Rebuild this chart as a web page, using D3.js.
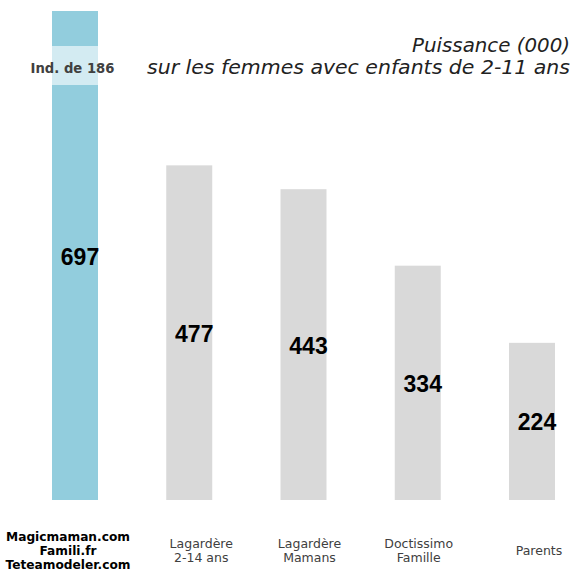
<!DOCTYPE html>
<html><head><meta charset="utf-8">
<script src="https://cdn.jsdelivr.net/npm/d3@7"></script>
<style>html,body{margin:0;padding:0;background:#fff;}svg{display:block;}</style>
</head><body>
<svg id="c" width="577" height="577"></svg>
<script>
const categories = [
  ["Magicmaman.com","Famili.fr","Teteamodeler.com"],
  ["Lagardère","2-14 ans"],
  ["Lagardère","Mamans"],
  ["Doctissimo","Famille"],
  ["Parents"]
];
const values = [697, 477, 443, 334, 224];
const indexLabel = "Ind. de 186";
const titleLines = ["Puissance (000)", "sur les femmes avec enfants de 2-11 ans"];

// layout
const labelDx = [-7, 12, 6, 1, 7];
const titleWidths = [158, 423];
const barW = 46;
const svg = d3.select("#c");
const ids = d3.range(values.length);
const x = d3.scalePoint().domain(ids).range([75, 532]);
const y = d3.scaleLinear().domain([0, 697]).range([500, 11]);

svg.selectAll("rect.bar").data(ids).join("rect")
  .attr("class","bar")
  .attr("x", i => x(i) - barW/2)
  .attr("width", barW)
  .attr("y", i => y(values[i]))
  .attr("height", i => y(0) - y(values[i]))
  .attr("fill", i => i === 0 ? "#92cddd" : "#d9d9d9");

// highlight band on first bar
svg.append("rect")
  .attr("x", x(0) - barW/2).attr("width", barW)
  .attr("y", 46).attr("height", 39)
  .attr("fill", "#d3ebf2");
svg.append("text")
  .attr("x", 72.5).attr("y", 72.5)
  .attr("text-anchor","middle")
  .attr("font-family","'DejaVu Sans', sans-serif")
  .attr("font-weight","bold")
  .attr("font-size", 13.2)
  .attr("fill","#404040")
  .text(indexLabel);

// value labels
svg.selectAll("text.val").data(ids).join("text")
  .attr("class","val")
  .attr("x", i => x(i) + 5)
  .attr("y", i => (y(values[i]) + y(0)) / 2 + 9)
  .attr("text-anchor","middle")
  .attr("font-family","'Liberation Sans', Arial, sans-serif")
  .attr("font-weight","bold")
  .attr("font-size", 23)
  .attr("fill","#000")
  .text(i => values[i]);

// category labels
const lineH = 14;
svg.selectAll("text.cat").data(ids).join("text")
  .attr("class","cat")
  .attr("text-anchor","middle")
  .attr("font-family","'DejaVu Sans', sans-serif")
  .attr("font-size", i => i === 0 ? 12.2 : 12.5)
  .attr("font-weight", i => i === 0 ? "bold" : "normal")
  .attr("fill", i => i === 0 ? "#000" : "#404040")
  .each(function(i){
    const lines = categories[i];
    const cy = 550;
    const y0 = cy - (lines.length - 1) * lineH / 2 + 4.5;
    d3.select(this).selectAll("tspan").data(lines).join("tspan")
      .attr("x", x(i) + labelDx[i])
      .attr("y", (d, k) => y0 + k * lineH)
      .text(d => d);
  });

// title
svg.selectAll("text.title").data(titleLines).join("text")
  .attr("class","title")
  .attr("x", 570)
  .attr("y", (d, k) => 52 + k * 22)
  .attr("text-anchor","end")
  .attr("font-family","'DejaVu Sans', sans-serif")
  .attr("font-style","italic")
  .attr("font-size", 20)
  .attr("textLength", (d, k) => titleWidths[k])
  .attr("lengthAdjust", "spacingAndGlyphs")
  .attr("fill","#222")
  .text(d => d);
</script>
</body></html>
